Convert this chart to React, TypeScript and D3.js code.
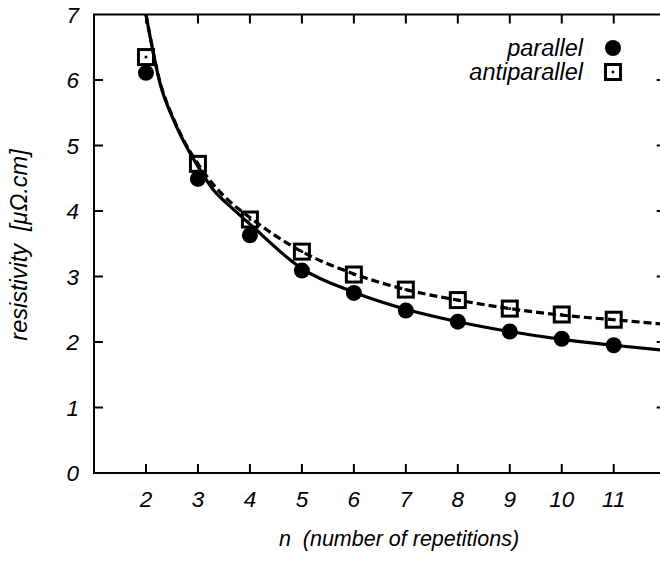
import * as d3 from 'd3'
import { useEffect, useRef } from 'react'

// measured values, n = number of repetitions
const repetitions = [2, 3, 4, 5, 6, 7, 8, 9, 10, 11]
const parallel = [6.11, 4.49, 3.63, 3.09, 2.75, 2.48, 2.31, 2.16, 2.05, 1.95]
const antiparallel = [6.35, 4.72, 3.87, 3.38, 3.03, 2.8, 2.64, 2.51, 2.42, 2.34]

// fitted curves
const fitN = [2.0, 2.27, 2.53, 2.78, 3.0, 3.3, 3.62, 4.0, 5, 6, 7, 8, 9, 10, 11, 12]
const fitParallel = [7.0, 5.95, 5.39, 4.98, 4.68, 4.32, 4.07, 3.8, 3.12, 2.76, 2.5, 2.31, 2.16, 2.04, 1.95, 1.87]
const fitAntiparallel = [7.0, 5.97, 5.41, 5.0, 4.72, 4.4, 4.14, 3.9, 3.38, 3.04, 2.8, 2.64, 2.51, 2.41, 2.34, 2.27]

const xTicks = [2, 3, 4, 5, 6, 7, 8, 9, 10, 11]
const yTicks = [0, 1, 2, 3, 4, 5, 6, 7]

const FONT = '"Liberation Sans", Arial, Helvetica, sans-serif'

export default function App() {
  const ref = useRef<SVGSVGElement>(null)

  useEffect(() => {
    const W = 660
    const H = 562
    const svg = d3.select(ref.current)
    svg.selectAll('*').remove()
    svg.attr('width', W).attr('height', H)

    const x = d3.scaleLinear().domain([1, 12]).range([94, 665.7])
    const y = d3.scaleLinear().domain([0, 7]).range([473, 14.5])
    const [x0, x1] = x.range()
    const [yb, yt] = y.range()

    svg
      .append('defs')
      .append('clipPath')
      .attr('id', 'plot-clip')
      .append('rect')
      .attr('x', x0)
      .attr('y', yt)
      .attr('width', x1 - x0)
      .attr('height', yb - yt)

    const plot = svg.append('g').attr('clip-path', 'url(#plot-clip)')

    const line = d3
      .line<number>()
      .x((_, i) => x(fitN[i]))
      .y((d) => y(d))
      .curve(d3.curveMonotoneX)

    plot
      .append('path')
      .attr('d', line(fitAntiparallel))
      .attr('fill', 'none')
      .attr('stroke', '#000')
      .attr('stroke-width', 3.2)
      .attr('stroke-dasharray', '8,4')

    plot
      .append('path')
      .attr('d', line(fitParallel))
      .attr('fill', 'none')
      .attr('stroke', '#000')
      .attr('stroke-width', 3.2)

    // points
    plot
      .selectAll('.par')
      .data(parallel)
      .enter()
      .append('circle')
      .attr('cx', (_, i) => x(repetitions[i]))
      .attr('cy', (d) => y(d))
      .attr('r', 8)
      .attr('fill', '#000')

    const sq = 15
    const drawSquare = (g: any, cx: number, cy: number) => {
      g.append('rect')
        .attr('x', cx - sq / 2)
        .attr('y', cy - sq / 2)
        .attr('width', sq)
        .attr('height', sq)
        .attr('fill', 'none')
        .attr('stroke', '#000')
        .attr('stroke-width', 3)
      g.append('rect')
        .attr('x', cx - 1.3)
        .attr('y', cy - 1.3)
        .attr('width', 2.6)
        .attr('height', 2.6)
        .attr('fill', '#000')
    }
    antiparallel.forEach((v, i) => drawSquare(plot, x(repetitions[i]), y(v)))

    // frame
    svg
      .append('rect')
      .attr('x', x0)
      .attr('y', yt)
      .attr('width', x1 - x0)
      .attr('height', yb - yt)
      .attr('fill', 'none')
      .attr('stroke', '#000')
      .attr('stroke-width', 2)

    const tick = 9
    const axes = svg.append('g').attr('stroke', '#000').attr('stroke-width', 2)
    xTicks.forEach((t) => {
      axes.append('line').attr('x1', x(t)).attr('x2', x(t)).attr('y1', yb).attr('y2', yb - tick)
      axes.append('line').attr('x1', x(t)).attr('x2', x(t)).attr('y1', yt).attr('y2', yt + tick)
    })
    yTicks.slice(1, -1).forEach((t) => {
      axes.append('line').attr('x1', x0).attr('x2', x0 + tick).attr('y1', y(t)).attr('y2', y(t))
      axes.append('line').attr('x1', x1).attr('x2', x1 - tick).attr('y1', y(t)).attr('y2', y(t))
    })

    const text = svg
      .append('g')
      .attr('font-family', FONT)
      .attr('font-style', 'italic')
      .attr('fill', '#000')

    xTicks.forEach((t) => {
      text
        .append('text')
        .attr('x', x(t))
        .attr('y', 507)
        .attr('text-anchor', 'middle')
        .attr('font-size', 22.5)
        .text(t)
    })
    yTicks.forEach((t) => {
      text
        .append('text')
        .attr('x', 79)
        .attr('y', y(t))
        .attr('dy', '0.36em')
        .attr('text-anchor', 'end')
        .attr('font-size', 22.5)
        .text(t)
    })

    text
      .append('text')
      .attr('x', 399)
      .attr('y', 546)
      .attr('text-anchor', 'middle')
      .attr('font-size', 21.5)
      .attr('xml:space', 'preserve')
      .text('n  (number of repetitions)')

    text
      .append('text')
      .attr('transform', 'translate(27,245) rotate(-90)')
      .attr('text-anchor', 'middle')
      .attr('font-size', 23.5)
      .attr('xml:space', 'preserve')
      .text('resistivity  [μΩ.cm]')

    // legend
    const legend = [
      { label: 'parallel', y: 48 },
      { label: 'antiparallel', y: 72 }
    ]
    legend.forEach((d) => {
      text
        .append('text')
        .attr('x', 583)
        .attr('y', d.y)
        .attr('dy', '0.36em')
        .attr('text-anchor', 'end')
        .attr('font-size', 23.5)
        .text(d.label)
    })
    svg.append('circle').attr('cx', 613).attr('cy', legend[0].y).attr('r', 8).attr('fill', '#000')
    drawSquare(svg, 613, legend[1].y)
  }, [])

  return (
    <svg
      ref={ref}
      style={{ position: 'absolute', left: 0, top: 0, background: '#fff' }}
    ></svg>
  )
}
